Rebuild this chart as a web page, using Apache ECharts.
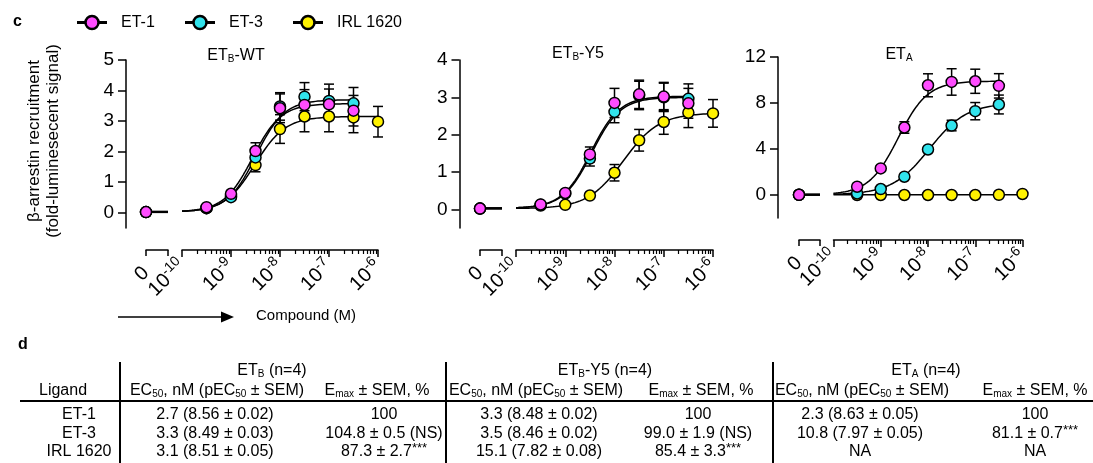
<!DOCTYPE html>
<html>
<head>
<meta charset="utf-8">
<script src="https://cdn.jsdelivr.net/npm/echarts@6/dist/echarts.min.js"></script>
<style>
  html, body { margin: 0; padding: 0; background: #fff; }
  #chart { width: 1093px; height: 463px; }
</style>
</head>
<body>
<div id="chart"></div>
<script>
const FONT = '"Liberation Sans", Arial, Helvetica, sans-serif';

// ---- concentrations (log10 M); the vehicle control sits on its own "0" axis segment
const logConc = [-9.5, -9, -8.5, -8, -7.5, -7, -6.5, -6];
const ligands = ['ET-1', 'ET-3', 'IRL 1620'];
const ligandColors = ['#ff4cff', '#31e3ec', '#fff200'];

// ---- ETB-WT: mean and SEM of the fold-luminescent signal
const wtControl = [0.02, 0.02, 0.02];
const wtEt1Mean = [0.18, 0.62, 2.02, 3.42, 3.53, 3.55, 3.34, null];
const wtEt1Sem  = [0.03, 0.06, 0.27, 0.47, 0.50, 0.50, 0.50, null];
const wtEt3Mean = [0.15, 0.51, 1.81, 3.48, 3.80, 3.66, 3.58, null];
const wtEt3Sem  = [0.03, 0.06, 0.30, 0.45, 0.46, 0.55, 0.52, null];
const wtIrlMean = [0.15, 0.55, 1.56, 2.74, 3.15, 3.15, 3.12, 2.98];
const wtIrlSem  = [0.03, 0.06, 0.22, 0.47, 0.50, 0.50, 0.50, 0.50];

// ---- ETB-Y5
const y5Control = [0.02, 0.02, 0.02];
const y5Et1Mean = [0.13, 0.44, 1.47, 2.85, 3.08, 3.02, 2.84, null];
const y5Et1Sem  = [0.03, 0.05, 0.20, 0.39, 0.38, 0.38, 0.40, null];
const y5Et3Mean = [0.12, 0.42, 1.36, 2.61, 3.05, 3.00, 2.96, null];
const y5Et3Sem  = [0.03, 0.05, 0.20, 0.29, 0.38, 0.38, 0.40, null];
const y5IrlMean = [0.10, 0.12, 0.37, 0.98, 1.85, 2.34, 2.59, 2.57];
const y5IrlSem  = [0.02, 0.03, 0.05, 0.22, 0.29, 0.33, 0.40, 0.37];

// ---- ETA
const etaControl = [0.02, 0.02, 0.02];
const etaEt1Mean = [0.72, 2.31, 5.87, 9.54, 9.83, 9.89, 9.49, null];
const etaEt1Sem  = [0.10, 0.20, 0.50, 1.00, 1.15, 1.05, 1.06, null];
const etaEt3Mean = [0.14, 0.52, 1.59, 3.96, 6.04, 7.29, 7.87, null];
const etaEt3Sem  = [0.05, 0.10, 0.15, 0.20, 0.46, 0.75, 0.82, null];
const etaIrlMean = [0.00, 0.00, 0.00, 0.00, 0.00, 0.00, 0.02, 0.09];
const etaIrlSem  = [0.00, 0.00, 0.00, 0.00, 0.00, 0.00, 0.00, 0.00];

// ---- fit parameters (ET-1, ET-3, IRL 1620); pEC50 comes from the summary table below
const wtTop = [3.57, 3.70, 3.15];
const wtSlope = [1.5, 1.5, 1.4];
const y5Top = [3.03, 3.00, 2.58];
const y5Slope = [1.5, 1.5, 1.2];
const etaTop = [9.90, 8.00, 0.02];
const etaSlope = [1.4, 1.1, 1.0];
const fitBottom = [0.03, 0.03, 0.02];

// ---- summary table
const tableLigands = ['ET-1', 'ET-3', 'IRL 1620'];
const etbEc50nM = [2.7, 3.3, 3.1];
const etbPec50 = [8.56, 8.49, 8.51];
const etbPec50Sem = [0.02, 0.03, 0.05];
const etbEmax = [100, 104.8, 87.3];
const etbEmaxSem = [null, 0.5, 2.7];
const etbEmaxSig = ['', 'NS', '***'];
const y5Ec50nM = [3.3, 3.5, 15.1];
const y5Pec50 = [8.48, 8.46, 7.82];
const y5Pec50Sem = [0.02, 0.02, 0.08];
const y5Emax = [100, 99.0, 85.4];
const y5EmaxSem = [null, 1.9, 3.3];
const y5EmaxSig = ['', 'NS', '***'];
const etaEc50nM = [2.3, 10.8, null];
const etaPec50 = [8.63, 7.97, null];
const etaPec50Sem = [0.05, 0.05, null];
const etaEmaxVals = [100, 81.1, null];
const etaEmaxSem = [null, 0.7, null];
const etaEmaxSig = ['', '***', ''];

// ---- tick labels
const decadeTicks = [-10, -9, -8, -7, -6];
const wtYTicks = [0, 1, 2, 3, 4, 5];
const y5YTicks = [0, 1, 2, 3, 4];
const etaYTicks = [0, 4, 8, 12];

// minor ticks at 2..9 x 10^n
const minorTicks = [];
for (let n = -10; n < -6; n++) {
  for (let k = 2; k <= 9; k++) minorTicks.push(n + Math.log10(k));
}

function hill(x, bottom, top, pec50, slope) {
  if (pec50 == null) return bottom;
  return bottom + (top - bottom) / (1 + Math.pow(10, (-pec50 - x) * slope));
}

const panels = [
  {
    title: 'ET{s|B}-WT', titleX: 236, titleY: 56,
    control: wtControl,
    means: [wtEt1Mean, wtEt3Mean, wtIrlMean], sems: [wtEt1Sem, wtEt3Sem, wtIrlSem],
    pec50: etbPec50, top: wtTop, slope: wtSlope,
    ymin: -0.5, ymax: 5, yticks: wtYTicks, yAxisX: 126,
    top0: 60, height: 168, zeroLeft: 146, zeroWidth: 22, logLeft: 182, logWidth: 196, xOffset: 22
  },
  {
    title: 'ET{s|B}-Y5', titleX: 578, titleY: 54,
    control: y5Control,
    means: [y5Et1Mean, y5Et3Mean, y5IrlMean], sems: [y5Et1Sem, y5Et3Sem, y5IrlSem],
    pec50: y5Pec50, top: y5Top, slope: y5Slope,
    ymin: -0.5, ymax: 4, yticks: y5YTicks, yAxisX: 459.5,
    top0: 60, height: 168, zeroLeft: 480, zeroWidth: 22, logLeft: 516, logWidth: 197, xOffset: 22
  },
  {
    title: 'ET{s|A}', titleX: 899, titleY: 55,
    control: etaControl,
    means: [etaEt1Mean, etaEt3Mean, etaIrlMean], sems: [etaEt1Sem, etaEt3Sem, etaIrlSem],
    pec50: etaPec50, top: etaTop, slope: etaSlope,
    ymin: -2, ymax: 12, yticks: etaYTicks, yAxisX: 778,
    top0: 57, height: 161, zeroLeft: 799, zeroWidth: 21, logLeft: 833.5, logWidth: 189, xOffset: 22
  }
];

const black = '#000';
const axisLineStyle = { color: black, width: 1.5 };
const supStyle = { fontSize: 14, fontFamily: FONT, color: black, padding: [0, 0, 11, 0] };

function errorBarItem(params, api) {
  const x = api.value(0);
  const p1 = api.coord([x, api.value(2)]);
  const p0 = api.coord([x, api.value(1)]);
  const cap = 5;
  const style = { stroke: black, lineWidth: 1.5, fill: null };
  return {
    type: 'group',
    children: [
      { type: 'line', shape: { x1: p1[0], y1: p1[1], x2: p0[0], y2: p0[1] }, style },
      { type: 'line', shape: { x1: p1[0] - cap, y1: p1[1], x2: p1[0] + cap, y2: p1[1] }, style },
      { type: 'line', shape: { x1: p0[0] - cap, y1: p0[1], x2: p0[0] + cap, y2: p0[1] }, style }
    ]
  };
}

const grids = [], xAxes = [], yAxes = [], series = [];

panels.forEach((p) => {
  const gZero = grids.length;
  grids.push({ left: p.zeroLeft, top: p.top0, width: p.zeroWidth, height: p.height });
  const gLog = grids.length;
  grids.push({ left: p.logLeft, top: p.top0, width: p.logWidth, height: p.height });

  const xZero = xAxes.length;
  xAxes.push({
    type: 'value', gridIndex: gZero, min: 0, max: 1, position: 'bottom', offset: p.xOffset,
    axisLine: { show: true, onZero: false, lineStyle: axisLineStyle },
    axisTick: { show: true, customValues: [0, 1], length: 6, lineStyle: axisLineStyle },
    axisLabel: {
      show: true, customValues: [0], rotate: 45, margin: 20, showMinLabel: true,
      fontSize: 20, fontFamily: FONT, color: black,
      formatter: () => '0'
    },
    splitLine: { show: false }
  });
  const xLog = xAxes.length;
  xAxes.push({
    type: 'value', gridIndex: gLog, min: -10, max: -6, position: 'bottom', offset: p.xOffset,
    axisLine: { show: true, onZero: false, lineStyle: axisLineStyle },
    axisTick: { show: true, customValues: decadeTicks, length: 7, lineStyle: axisLineStyle },
    axisLabel: {
      show: true, customValues: decadeTicks, rotate: 45, margin: 13,
      showMinLabel: true, showMaxLabel: true,
      fontSize: 20, fontFamily: FONT, color: black,
      richInheritPlainLabel: true,
      formatter: v => '10{s|' + Math.round(v) + '}',
      rich: { s: supStyle }
    },
    splitLine: { show: false }
  });
  xAxes.push({
    type: 'value', gridIndex: gLog, min: -10, max: -6, position: 'bottom', offset: p.xOffset,
    axisLine: { show: false, onZero: false },
    axisTick: { show: true, customValues: minorTicks, length: 4, lineStyle: { color: black, width: 1.2 } },
    axisLabel: { show: false },
    splitLine: { show: false }
  });

  const yZero = yAxes.length;
  yAxes.push({
    type: 'value', gridIndex: gZero, min: p.ymin, max: p.ymax, position: 'left',
    offset: p.zeroLeft - p.yAxisX,
    axisLine: { show: true, onZero: false, lineStyle: axisLineStyle },
    axisTick: { show: true, customValues: p.yticks, length: 8, lineStyle: axisLineStyle },
    axisLabel: { show: true, customValues: p.yticks, margin: 12, color: black, fontSize: 19, fontFamily: FONT },
    splitLine: { show: false }
  });
  const yLog = yAxes.length;
  yAxes.push({ type: 'value', gridIndex: gLog, min: p.ymin, max: p.ymax, show: false, splitLine: { show: false } });

  // drawing order: IRL 1620 first, ET-1 last (on top)
  [2, 1, 0].forEach(li => {
    const mean = p.means[li], sem = p.sems[li];
    const pts = [], bars = [];
    let lastX = -10;
    mean.forEach((m, i) => {
      if (m == null) return;
      pts.push([logConc[i], m]);
      lastX = logConc[i];
      if (sem[i] > 0.04) bars.push([logConc[i], m - sem[i], m + sem[i]]);
    });

    // four-parameter logistic fit along the concentration axis
    const curve = [];
    for (let x = -10; x <= lastX + 1e-9; x += 0.025) {
      curve.push([x, hill(x, fitBottom[li], p.top[li], p.pec50[li], p.slope[li])]);
    }
    const base = hill(-20, fitBottom[li], p.top[li], p.pec50[li], p.slope[li]);

    series.push({
      type: 'custom', name: ligands[li], xAxisIndex: xLog, yAxisIndex: yLog,
      renderItem: errorBarItem, data: bars, encode: { x: 0, y: [1, 2] },
      clip: false, silent: true, z: 2
    });
    series.push({
      type: 'line', name: ligands[li], xAxisIndex: xLog, yAxisIndex: yLog,
      data: curve, showSymbol: false, symbol: 'none', clip: false, silent: true,
      lineStyle: { color: black, width: 1.5 }, z: 2
    });
    series.push({
      type: 'line', name: ligands[li], xAxisIndex: xZero, yAxisIndex: yZero,
      data: [[0, base], [1, base]], showSymbol: false, symbol: 'none', clip: false, silent: true,
      lineStyle: { color: black, width: 2 }, z: 2
    });
    series.push({
      type: 'scatter', name: ligands[li], xAxisIndex: xZero, yAxisIndex: yZero,
      data: [[0, p.control[li]]], symbol: 'circle', symbolSize: 11, clip: false,
      itemStyle: { color: ligandColors[li], borderColor: black, borderWidth: 1.5, opacity: 1 }, z: 2
    });
    series.push({
      type: 'scatter', name: ligands[li], xAxisIndex: xLog, yAxisIndex: yLog,
      data: pts, symbol: 'circle', symbolSize: 11, clip: false,
      itemStyle: { color: ligandColors[li], borderColor: black, borderWidth: 1.5, opacity: 1 }, z: 2
    });
  });
});

// ---- text helpers
const subRich = {
  s: { fontSize: 10, fontFamily: FONT, fill: black, color: black, padding: [6, 0, 0, 0] },
  p: { fontSize: 13, fontFamily: FONT, fill: black, color: black, padding: [0, 0, 8, 0] }
};
function txt(x, y, text, opts) {
  opts = opts || {};
  return {
    type: 'text', x, y, rotation: opts.rotation || 0, silent: true,
    style: {
      text, fill: black, fontSize: opts.size || 16, fontFamily: FONT,
      fontWeight: opts.weight || 'normal',
      align: opts.align || 'center', verticalAlign: 'middle', rich: subRich
    }
  };
}

const graphics = [];

// panel letters
graphics.push(txt(13, 22, 'c', { size: 16, weight: 'bold', align: 'left' }));
graphics.push(txt(18, 345, 'd', { size: 16, weight: 'bold', align: 'left' }));

// legend
const legendX = [77, 185, 293];
ligands.forEach((name, i) => {
  const x0 = legendX[i], y0 = 22.5;
  graphics.push({ type: 'line', silent: true, shape: { x1: x0, y1: y0, x2: x0 + 30, y2: y0 }, style: { stroke: black, lineWidth: 3 } });
  graphics.push({ type: 'circle', silent: true, shape: { cx: x0 + 15, cy: y0, r: 6.5 }, style: { fill: ligandColors[i], stroke: black, lineWidth: 2.5 } });
  graphics.push(txt(x0 + 44, y0, name, { size: 16, align: 'left' }));
});

// panel titles
panels.forEach(p => graphics.push(txt(p.titleX, p.titleY, p.title, { size: 16 })));

// y-axis title
graphics.push(txt(34, 141, 'β-arrestin recruitment', { size: 17, rotation: Math.PI / 2 }));
graphics.push(txt(53, 141, '(fold-luminesecent signal)', { size: 17, rotation: Math.PI / 2 }));

// concentration arrow
graphics.push({ type: 'line', silent: true, shape: { x1: 118, y1: 317, x2: 224, y2: 317 }, style: { stroke: black, lineWidth: 1.5 } });
graphics.push({ type: 'polygon', silent: true, shape: { points: [[221, 311.5], [234, 317], [221, 322.5]] }, style: { fill: black } });
graphics.push(txt(256, 316, 'Compound (M)', { size: 15, align: 'left' }));

// ---- summary table
function ec50Text(nM, p, sem) {
  if (nM == null) return 'NA';
  return nM.toFixed(1) + ' (' + p.toFixed(2) + ' ± ' + sem.toFixed(2) + ')';
}
function emaxText(v, sem, sig) {
  if (v == null) return 'NA';
  if (sem == null) return String(v);
  let s = v.toFixed(1) + ' ± ' + sem.toFixed(1);
  if (sig === 'NS') s += ' (NS)';
  else if (sig) s += '{p|' + sig + '}';
  return s;
}

graphics.push({ type: 'line', silent: true, shape: { x1: 20, y1: 401, x2: 1093, y2: 401 }, style: { stroke: black, lineWidth: 2 } });
[120, 446, 773].forEach(x => graphics.push({ type: 'line', silent: true, shape: { x1: x, y1: 362, x2: x, y2: 463 }, style: { stroke: black, lineWidth: 2 } }));

graphics.push(txt(272, 371, 'ET{s|B} (n=4)'));
graphics.push(txt(605, 371, 'ET{s|B}-Y5 (n=4)'));
graphics.push(txt(926, 371, 'ET{s|A} (n=4)'));

const ecHead = 'EC{s|50}, nM (pEC{s|50} ± SEM)';
const emHead = 'E{s|max} ± SEM, %';
graphics.push(txt(63, 391, 'Ligand'));
graphics.push(txt(217, 391, ecHead));
graphics.push(txt(377, 391, emHead));
graphics.push(txt(536, 391, ecHead));
graphics.push(txt(701, 391, emHead));
graphics.push(txt(862, 391, ecHead));
graphics.push(txt(1035, 391, emHead));

const rowY = [415, 434, 452];
tableLigands.forEach((name, i) => {
  const y = rowY[i];
  graphics.push(txt(79, y, name));
  graphics.push(txt(215, y, ec50Text(etbEc50nM[i], etbPec50[i], etbPec50Sem[i])));
  graphics.push(txt(384, y, emaxText(etbEmax[i], etbEmaxSem[i], etbEmaxSig[i])));
  graphics.push(txt(539, y, ec50Text(y5Ec50nM[i], y5Pec50[i], y5Pec50Sem[i])));
  graphics.push(txt(698, y, emaxText(y5Emax[i], y5EmaxSem[i], y5EmaxSig[i])));
  graphics.push(txt(860, y, ec50Text(etaEc50nM[i], etaPec50[i], etaPec50Sem[i])));
  graphics.push(txt(1035, y, emaxText(etaEmaxVals[i], etaEmaxSem[i], etaEmaxSig[i])));
});

const chart = echarts.init(document.getElementById('chart'), null, { renderer: 'canvas' });
chart.setOption({
  animation: false,
  backgroundColor: '#fff',
  textStyle: { fontFamily: FONT },
  grid: grids,
  xAxis: xAxes,
  yAxis: yAxes,
  series: series,
  graphic: { elements: graphics }
});
</script>
</body>
</html>
